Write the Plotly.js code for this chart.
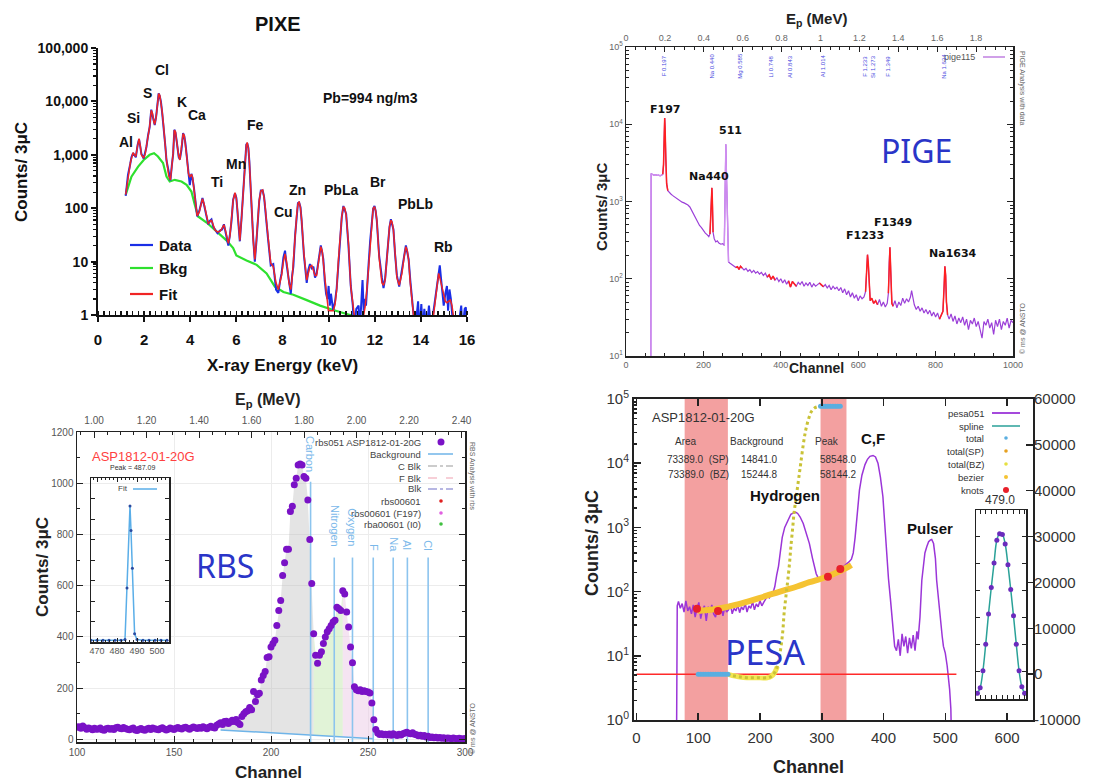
<!DOCTYPE html>
<html><head><meta charset="utf-8">
<script src="https://cdn.plot.ly/plotly-3.0.1.min.js"></script>
<style>html,body{margin:0;padding:0;background:#fff}#chart{width:1096px;height:784px}</style>
</head><body><div id="chart"></div>
<script>
// ---------------- PIXE data ----------------
const pixeE = [
1.2,1.3,1.4,1.45,1.52,1.58,1.64,1.72,1.78,1.83,
1.88,1.98,2.05,2.1,2.17,2.24,2.31,2.36,2.42,2.46,
2.52,2.58,2.63,2.68,2.73,2.78,2.83,2.87,2.92,2.97,
3.07,3.14,3.2,3.26,3.31,3.36,3.41,3.45,3.5,3.55,
3.62,3.69,3.74,3.79,3.84,3.92,3.98,4.05,4.1,4.16,
4.23,4.3,4.39,4.46,4.53,4.6,4.68,4.78,4.85,4.92,
5.0,5.07,5.18,5.29,5.38,5.46,5.55,5.65,5.72,5.79,
5.86,5.94,6.0,6.04,6.1,6.15,6.22,6.3,6.38,6.43,
6.47,6.52,6.56,6.62,6.66,6.73,6.8,6.87,6.93,6.99,
7.06,7.14,7.2,7.24,7.3,7.38,7.49,7.6,7.72,7.82,
7.9,7.96,8.04,8.11,8.16,8.21,8.28,8.36,8.42,8.47,
8.55,8.62,8.67,8.72,8.78,8.83,8.93,9.05,9.12,9.19,
9.27,9.34,9.41,9.48,9.57,9.66,9.72,9.77,9.83,9.89,
9.99,10.1,10.2,10.28,10.35,10.42,10.5,10.57,10.64,10.7,
10.76,10.86,10.96,11.08,11.2,11.4,11.58,11.66,11.73,11.8,
11.87,11.93,11.99,12.04,12.09,12.19,12.31,12.38,12.45,12.51,
12.57,12.64,12.7,12.75,12.81,12.88,12.96,13.06,13.12,13.18,
13.27,13.35,13.41,13.47,13.54,13.61,13.68,13.8,14.0,14.2,
14.4,14.55,14.63,14.7,14.77,14.82,14.87,14.93,14.99,15.06,
15.13,15.2,15.28,15.35,15.42,15.5];
const pixeFit = [
180,400,700,850,1100,1000,930,1500,2000,1500,
1000,870,1050,1440,2200,3400,6800,6000,4200,3700,
5000,9000,14000,13000,9500,6500,4000,2500,1400,800,
400,340,600,1100,2900,2700,1800,1300,950,800,
1300,2500,2300,1600,1000,450,380,430,380,230,
120,72,85,120,150,120,78,52,55,60,
48,39,36,37,42,49,35,22,30,60,
140,195,150,100,40,25,60,250,900,1500,
1700,1300,800,300,110,25,11,25,70,140,
210,220,160,120,60,26,9.3,8,4,3,
4,5.5,10,14,11,8,4,3,5,9,
30,80,120,133,100,60,14,4.5,6,8,
8.5,7,5.5,5.5,11,19,16,10.5,5,3,
1.2,1.2,1.2,1.6,3,10,25,70,107,100,
75,22,3.4,1.0,0.5,0.5,1.4,3,8,25,
60,100,107,90,60,12,4,3.6,4.5,10,
22,45,60,55,39,15,5,3.6,4.5,6,
12,19,16,10.7,4,1.9,1,0.5,0.5,0.5,
0.5,1,1.9,3.5,6,5,4,2.8,2.2,1.8,
1.7,1.8,1.9,1.5,1.0,0.5];
const pixeDataE = [
1.2,1.3,1.4,1.45,1.52,1.58,1.64,1.72,1.78,1.83,
1.88,1.98,2.05,2.1,2.17,2.24,2.31,2.36,2.42,2.46,
2.52,2.58,2.63,2.68,2.73,2.78,2.83,2.87,2.92,2.97,
3.07,3.14,3.2,3.26,3.31,3.36,3.41,3.45,3.5,3.55,
3.62,3.69,3.74,3.79,3.84,3.92,3.98,4.05,4.1,4.16,
4.23,4.3,4.39,4.46,4.53,4.6,4.68,4.78,4.85,4.92,
5.0,5.07,5.18,5.29,5.38,5.46,5.55,5.65,5.72,5.79,
5.86,5.94,6.0,6.04,6.1,6.15,6.22,6.3,6.38,6.43,
6.47,6.52,6.56,6.62,6.66,6.73,6.8,6.87,6.93,6.99,
7.06,7.14,7.2,7.24,7.3,7.38,7.49,7.6,7.72,7.82,
7.9,7.96,8.04,8.11,8.16,8.21,8.28,8.36,8.42,8.47,
8.55,8.62,8.67,8.72,8.78,8.83,8.93,9.05,9.12,9.19,
9.27,9.34,9.41,9.48,9.57,9.66,9.72,9.77,9.83,9.89,
9.95,10.0,10.05,10.1,10.2,10.28,10.35,10.42,10.5,10.57,
10.64,10.7,10.76,10.86,10.96,11.05,11.1,11.2,11.3,11.35,
11.42,11.47,11.52,11.58,11.62,11.66,11.73,11.8,11.87,11.93,
11.99,12.04,12.09,12.19,12.31,12.38,12.45,12.51,12.57,12.64,
12.7,12.75,12.81,12.88,12.96,13.06,13.12,13.18,13.27,13.35,
13.41,13.47,13.54,13.61,13.68,13.75,13.88,13.93,14.02,14.08,
14.15,14.25,14.35,14.45,14.55,14.63,14.7,14.77,14.82,14.87,
14.93,14.99,15.06,15.13,15.18,15.24,15.3,15.35,15.42,15.6,
15.75,15.8,15.9,15.95,16.0];
const pixeData = [
170,420,680,900,1080,980,900,1550,1950,1450,
1050,850,1100,1400,2300,3300,7000,5600,4400,3600,
5200,8800,14200,12500,9800,6300,4100,2400,1450,780,
420,330,620,1050,2950,2600,1850,1250,900,820,
1250,2550,2250,1650,950,470,270,440,360,240,
115,70,88,118,155,115,80,50,58,62,
45,40,34,38,40,50,33,20,32,58,
145,190,155,95,42,24,62,240,920,1550,
1650,1350,780,310,105,27,10,24,72,135,
215,215,165,115,62,25,8.5,9,3,2.6,
4.5,6,12,16,10,7,3.5,2.5,5.5,8,
32,78,125,128,105,58,13,4,7,9,
7.5,8,5,6,10,20,15,11,4.5,2.5,
2,3.5,1.5,2.5,1.2,1.8,3.2,9,27,68,
110,95,78,20,3.5,1.5,0.5,1.3,1.5,0.5,
2.5,4.5,1.2,2,1.5,3.2,8.5,24,62,98,
110,88,58,13,5,3.2,4.8,9,23,44,
62,53,40,14,5.5,3.4,5,6.5,11,20,
15,11,4.5,2,1.1,0.5,1.8,0.5,1.6,0.5,
1.3,0.5,1.5,0.5,1.2,2.2,4,7,8.5,5,
3,1.5,2.5,3.5,1.2,3,2,1.2,0.5,0.5,
1.5,0.5,1.3,1.4,0.5];
const pixeBkgE = [1.2,1.45,1.74,1.98,2.24,2.43,2.6,2.82,2.97,3.11,3.33,3.62,3.84,4.05,4.2,4.34,4.71,5.14,5.57,5.86,6.0,6.44,6.88,7.31,7.67,8.04,8.47,9.05,9.63,10.2,10.93,11.1];
const pixeBkg  = [178,390,600,800,1000,1070,930,700,390,316,340,316,275,205,115,70,54,37,25,18,13,10.5,8.7,6,3.4,2.7,2.4,1.9,1.5,1.24,1.0,0.95];
const pixeElements = ['Al','Si','S','Cl','K','Ca','Ti','Mn','Fe','Cu','Zn','PbLa','Br','PbLb','Rb'];
const pixeYTicks = [1,10,100,1000,10000,100000];
const pixeYTickText = ['1','10','100','1,000','10,000','100,000'];

// ---------------- PIGE data ----------------
const pigeCh = [
64,65,68,72,76,80,84,88,92,95,
97,99,100,101,103,105,108,112,116,120,
125,130,135,140,145,150,155,160,165,170,
175,180,185,190,195,200,205,210,214,217,
219,221,222,223,225,228,232,236,240,245,
250,254,256,257,258,259,261,263,265,268,
272,276,280,284,288,292,296,300,305,310,
315,320,325,330,335,340,345,350,355,360,
365,370,375,380,385,390,395,400,405,410,
415,420,425,430,435,440,445,450,455,460,
465,470,475,480,485,490,495,500,505,510,
515,520,525,530,535,540,545,550,555,560,
565,570,575,580,585,590,595,600,605,610,
615,619,622,624,626,628,631,635,640,645,
650,655,660,665,670,675,678,680,682,684,
687,690,695,700,705,710,715,720,725,730,
735,738,741,745,750,755,760,765,770,775,
780,785,790,795,800,805,810,815,819,822,
824,826,828,831,835,840,845,850,855,860,
865,870,875,880,885,890,895,900,905,910,
915,920,925,930,935,940,945,950,955,960,
965,970,975,980,985,990,995,1000];
const pigeCounts = [
5,2300,2250,2200,2220,2180,2200,2150,2200,2250,
3000,8000,12000,9000,3500,1700,1380,1300,1250,1200,
1150,1120,1060,1000,980,960,930,900,850,760,
690,610,560,490,460,420,390,370,350,380,
700,1300,1500,1100,400,330,300,310,290,280,
285,270,1200,3500,5500,3000,800,200,165,160,
155,150,148,140,143,132,145,138,130,136,
125,131,120,128,118,124,115,121,110,118,
105,112,98,108,96,103,92,100,88,97,
85,94,78,92,86,80,90,84,92,80,
88,82,90,78,86,80,84,88,82,79,
84,76,82,72,80,74,78,70,77,66,
74,62,70,58,66,56,62,52,60,55,
58,68,130,205,160,80,52,56,48,52,
46,54,44,50,43,48,65,160,255,130,
48,44,52,42,50,45,56,48,55,50,
58,70,55,46,40,44,38,42,36,40,
35,39,33,37,32,36,30,34,38,80,
145,110,50,34,30,35,28,33,26,31,
27,32,25,30,22,29,26,31,24,28,
22,17,28,25,30,23,27,19,29,24,
30,22,28,25,31,23,29,27];
const pigeFitRanges = [[95,110],[216,226],[282,300],[362,385],[420,440],[500,510],[616,650],[676,690],[808,832]];
const pigeLightRanges = [[60,95],[254,266]];
const pigePeakNames = ['F197','511','Na440','F1233','F1349','Na1634'];
const pigeGammaLabels = ['F 0.197','Na 0.440','Mg 0.585','Li 0.748','Al 0.843','Al 1.014','F 1.233','Si 1.273','F 1.349','Na 1.634'];
const pigeGammaEp = [0.197,0.44,0.585,0.748,0.843,1.014,1.228,1.27,1.346,1.634];

// ---------------- RBS data ----------------
const rbsCh = [
100,101,102,103,104,105,106,107,108,109,
110,111,112,113,114,115,116,117,118,119,
120,121,122,123,124,125,126,127,128,129,
130,131,132,133,134,135,136,137,138,139,
140,141,142,143,144,145,146,147,148,149,
150,151,152,153,154,155,156,157,158,159,
160,161,162,163,164,165,166,167,168,169,
170,171,172,173,174,175,176,177,178,179,
180,181,182,183,184,185,186,187,188,189,
190,191,192,193,194,195,196,197,198,199,
200,201,202,203,204,205,206,207,208,209,
210,211,212,213,214,215,216,217,218,219,
220,221,222,223,224,225,226,227,228,229,
230,231,232,233,234,235,236,237,238,239,
240,241,242,243,244,245,246,247,248,249,
250,251,252,253,254,255,256,257,258,259,
260,261,262,263,264,265,266,267,268,269,
270,271,272,273,274,275,276,277,278,279,
280,281,282,283,284,285,286,287,288,289,
290,291,292,293,294,295,296,297,298,299,
300];
const rbsCounts = [
48,50,44,52,46,40,45,42,38,44,
40,41,45,38,36,42,44,40,43,39,
46,48,44,42,47,43,40,38,42,45,
37,35,40,43,38,36,41,44,39,45,
42,40,38,43,46,41,37,40,45,42,
39,44,47,43,41,46,48,44,40,45,
49,46,43,47,44,50,46,42,48,51,
47,45,55,60,65,58,70,71,62,68,
75,70,78,65,58,90,100,108,112,125,
116,187,148,174,180,232,250,265,320,323,
361,374,387,445,503,542,640,690,742,742,
890,910,994,1019,1071,1075,1071,1026,1019,935,
780,609,413,329,297,329,342,374,400,420,
432,445,458,465,516,510,503,580,568,497,
439,361,299,206,194,190,194,187,190,187,
185,181,142,77,39,25,19,22,18,20,
17,21,16,22,18,15,20,17,22,25,
28,24,22,26,20,18,14,16,12,15,
10,12,8,10,7,9,6,8,5,7,
4,6,5,3,6,4,2,5,3,2,
4];
const rbsBgCh = [174,253];
const rbsBgCounts = [37,3];
const rbsBands = [[174,222],[222,237],[237,253]];
const rbsBandColors = ['rgba(185,185,185,0.38)','rgba(195,232,175,0.5)','rgba(236,205,232,0.55)'];
const rbsElements = ['Carbon','Nitrogen','Oxygen','F','Na','Al','Cl'];
const rbsElemCh = [220.4,232.6,242,252.7,263,270.3,281];
const rbsElemTop = [1006,710,710,710,710,710,710];
const rbsElemLabelY = [1116,832,826,750,761,757,757];
const rbsInsetCh = [467,470,473,476,479,482,484,485,486.5,487,487.7,488.8,490,493,496,499,502,505];
const rbsInsetVal = [1,1,1,1,1,1,1.5,33,83,68,45,5,1.5,1,1,1,1,1];

// ---------------- PESA data ----------------
const pesaCh = [
65,66,68,71,74,77,80,83,86,89,
92,95,98,101,104,107,110,113,116,119,
122,125,128,131,134,137,140,143,146,149,
152,155,158,161,164,167,170,173,176,179,
182,185,188,191,194,197,200,203,206,209,
212,215,218,221,224,227,230,233,236,240,
245,250,255,258,261,265,270,275,280,285,
288,291,294,297,300,304,308,312,316,320,
324,328,332,336,340,344,348,351,354,357,
361,365,370,374,378,383,387,391,395,399,
402,405,408,411,413,416,418,421,424,427,
430,433,436,439,442,445,448,451,454,456,
459,462,465,467,470,473,476,478,481,484,
486,489,492,495,497,500,503,505,507,509,
510];
const pesaCounts = [
0.8,60,70,55,65,48,72,50,58,45,
62,40,55,68,38,52,60,35,58,48,
62,45,40,55,50,60,42,58,48,52,
65,45,55,50,62,47,58,52,66,48,
60,55,70,52,64,58,72,60,68,75,
85,80,90,95,120,180,250,420,700,1000,
1300,1600,1700,1720,1650,1450,1150,800,560,330,
240,190,165,160,165,170,172,178,185,192,
200,215,235,255,270,290,320,400,700,1500,
3800,6500,9500,11500,12800,13200,12500,10000,6000,3000,
1000,450,160,80,46,22,14,12,18,10,
22,14,20,11,19,13,21,12,24,18,
40,150,260,400,500,600,640,650,560,330,
150,70,36,20,14,11,7,5,3,1.5,
0.5];
const pesaBezCh = [100,120,140,160,180,200,220,240,260,280,300,320,340,348];
const pesaBezVal = [50,52,56,62,70,80,92,105,120,140,160,190,235,260];
const pesaKnotCh = [98,132,310,330];
const pesaKnotVal = [54,50,170,225];
const pesaTotLowCh = [100,104,108,112,116,120,124,128,132,136,140,144,148];
const pesaTotLowVal = [0,0,0,0,0,0,0,0,0,0,0,0,0];
const pesaTotHighCh = [298,302,306,310,314,318,322,326,330];
const pesaTotHighVal = [58400,58400,58400,58400,58400,58400,58400,58400,58400];
const pesaCumCh = [147,155,165,179,195,212,218,223,228,231,234,237,239,242,245,248,250,253,255,258,261,264,266,270,274,279,283,288,293,298];
const pesaCumVal = [0,-300,-550,-780,-800,-780,-500,200,1650,3500,6000,9500,13250,17000,20500,24500,27800,32000,35000,38000,41000,44000,46000,50000,53200,55800,57200,58000,58300,58400];
const pesaZeroCh = [0,518];
const pesaZeroVal = [0,0];
const pesaBands = [[78,148],[298,340]];
const pesaInsetCh = [471,472,473,474,475,476,477,478,479,480,481,482,483,484,485,486,487,488];
const pesaInsetVal = [0.03,0.06,0.15,0.29,0.45,0.59,0.72,0.84,0.875,0.87,0.82,0.71,0.58,0.44,0.29,0.15,0.065,0.03];
const pesaRightTicks = [-10000,0,10000,20000,30000,40000,50000,60000];
const logTicks = [1,10,100,1000,10000,100000];

// ---------------- helpers ----------------
const W = 1096, H = 784;
const X = px => px / W, Y = py => 1 - py / H;
const FA = 'Liberation Sans, Arial, sans-serif';
const FD = 'DejaVu Sans, Verdana, sans-serif';
function T(text, px, py, size, color, extra) {
  return Object.assign({text: text, x: X(px), y: Y(py), xref: 'paper', yref: 'paper', showarrow: false,
    xanchor: 'center', yanchor: 'middle', font: {size: size, color: color, family: FA}}, extra || {});
}
function legLine(x0, x1, y, color, dash, width) {
  return {type: 'line', xref: 'paper', yref: 'paper', x0: X(x0), x1: X(x1), y0: Y(y), y1: Y(y),
    line: {color: color, width: width || 1.5, dash: dash || 'solid'}};
}
function legDot(cx, cy, r, color) {
  return {type: 'circle', xref: 'paper', yref: 'paper', x0: X(cx - r), x1: X(cx + r), y0: Y(cy + r), y1: Y(cy - r),
    fillcolor: color, line: {width: 0}};
}
function logMinor(d0, d1) { const a = []; for (let e = d0; e < d1; e++) for (let m = 2; m <= 9; m++) a.push(m * Math.pow(10, e)); return a; }
function pick(xs, ys, lo, hi) { const ox = [], oy = []; xs.forEach((v, i) => { if (v >= lo && v <= hi) { ox.push(v); oy.push(ys[i]); } }); return [ox, oy]; }
function sup(n) { return '10<sup>' + n + '</sup>'; }

const traces = [];
// PIXE
traces.push({x: pixeBkgE, y: pixeBkg, xaxis: 'x', yaxis: 'y', mode: 'lines', line: {color: '#2ee02e', width: 2.2}, name: 'Bkg'});
traces.push({x: pixeDataE, y: pixeData, xaxis: 'x', yaxis: 'y', mode: 'lines', line: {color: '#1a2ee6', width: 2}, name: 'Data'});
traces.push({x: pixeE, y: pixeFit, xaxis: 'x', yaxis: 'y', mode: 'lines', line: {color: '#f02424', width: 1.5}, name: 'Fit'});
// PIGE
traces.push({x: pigeCh, y: pigeCounts, xaxis: 'x2', yaxis: 'y2', mode: 'lines', line: {color: '#9b3fd8', width: 1.2}, name: 'pige115'});
pigeLightRanges.forEach(r => { const p = pick(pigeCh, pigeCounts, r[0], r[1]);
  traces.push({x: p[0], y: p[1], xaxis: 'x2', yaxis: 'y2', mode: 'lines', line: {color: '#d08ef0', width: 1.4}}); });
pigeFitRanges.forEach(r => { const p = pick(pigeCh, pigeCounts, r[0], r[1]);
  traces.push({x: p[0], y: p[1], xaxis: 'x2', yaxis: 'y2', mode: 'lines', line: {color: '#ff2020', width: 1.5}}); });
traces.push({x: [0.5], y: [null], xaxis: 'x3', yaxis: 'y2', mode: 'markers', hoverinfo: 'skip'});
// RBS
function bgAt(c) { const t = (c - rbsBgCh[0]) / (rbsBgCh[1] - rbsBgCh[0]); return rbsBgCounts[0] + t * (rbsBgCounts[1] - rbsBgCounts[0]); }
rbsBands.forEach((b, k) => {
  const p = pick(rbsCh, rbsCounts, b[0], b[1]);
  const xs = p[0].concat(p[0].slice().reverse());
  const ys = p[1].concat(p[0].slice().reverse().map(bgAt));
  traces.push({x: xs, y: ys, xaxis: 'x4', yaxis: 'y4', mode: 'lines', fill: 'toself', fillcolor: rbsBandColors[k], line: {width: 0}, hoverinfo: 'skip'});
});
traces.push({x: rbsBgCh, y: rbsBgCounts, xaxis: 'x4', yaxis: 'y4', mode: 'lines', line: {color: '#6fb4e8', width: 1.5}, name: 'Background'});
rbsElemCh.forEach((c, i) => traces.push({x: [c, c], y: [-20, rbsElemTop[i]], xaxis: 'x4', yaxis: 'y4', mode: 'lines', line: {color: '#8cc4ee', width: 1.6}}));
traces.push({x: rbsCh, y: rbsCounts, xaxis: 'x4', yaxis: 'y4', mode: 'markers', marker: {color: '#7a12c6', size: 7}, name: 'rbs051 ASP1812-01-20G'});
traces.push({x: [1.5], y: [null], xaxis: 'x5', yaxis: 'y4', mode: 'markers', hoverinfo: 'skip'});
traces.push({x: rbsInsetCh, y: rbsInsetVal, xaxis: 'x6', yaxis: 'y6', mode: 'lines+markers', line: {color: '#5aaee8', width: 1.5}, marker: {color: '#2a4aa0', size: 3}, name: 'Fit'});
// PESA
const lowCum = pick(pesaCumCh, pesaCumVal, 140, 229);
traces.push({x: pesaZeroCh, y: pesaZeroVal, xaxis: 'x7', yaxis: 'y8', mode: 'lines', line: {color: '#ff2a2a', width: 1.5}});
traces.push({x: pesaCh, y: pesaCounts, xaxis: 'x7', yaxis: 'y7', mode: 'lines', line: {color: '#9b35d8', width: 1.5}, name: 'pesa051'});
traces.push({x: lowCum[0], y: lowCum[1], xaxis: 'x7', yaxis: 'y8', mode: 'lines', line: {color: '#f2e650', width: 5, shape: 'spline'}});
traces.push({x: pesaCumCh, y: pesaCumVal, xaxis: 'x7', yaxis: 'y8', mode: 'lines', line: {color: '#c9c236', width: 3, dash: 'dot', shape: 'spline'}, name: 'total(BZ)'});
traces.push({x: pesaBezCh, y: pesaBezVal, xaxis: 'x7', yaxis: 'y7', mode: 'lines', line: {color: '#f5c332', width: 6, shape: 'spline'}, name: 'bezier'});
traces.push({x: pesaTotLowCh, y: pesaTotLowVal, xaxis: 'x7', yaxis: 'y8', mode: 'lines+markers', line: {color: '#5aaee0', width: 4}, marker: {color: '#5aaee0', size: 5}, name: 'total'});
traces.push({x: pesaTotHighCh, y: pesaTotHighVal, xaxis: 'x7', yaxis: 'y8', mode: 'lines+markers', line: {color: '#5aaee0', width: 4}, marker: {color: '#5aaee0', size: 5}});
traces.push({x: pesaKnotCh, y: pesaKnotVal, xaxis: 'x7', yaxis: 'y7', mode: 'markers', marker: {color: '#e8202a', size: 8}, name: 'knots'});
traces.push({x: pesaInsetCh, y: pesaInsetVal, xaxis: 'x9', yaxis: 'y9', mode: 'lines', line: {color: '#2aa198', width: 1.5, shape: 'spline'}, name: 'spline'});
traces.push({x: pesaInsetCh, y: pesaInsetVal, xaxis: 'x9', yaxis: 'y9', mode: 'markers', marker: {color: '#6a2bbd', size: 5}});
traces.forEach(t => { t.showlegend = false; });

// ---------------- axes ----------------
const gTick = {size: 9, color: '#666', family: FA};
const layout = {
  width: W, height: H, margin: {l: 0, r: 0, t: 0, b: 0}, showlegend: false,
  paper_bgcolor: '#fff', plot_bgcolor: 'rgba(0,0,0,0)', font: {family: FA},
  // PIXE
  xaxis: {domain: [X(98), X(467)], anchor: 'y', range: [0, 16], dtick: 2, tick0: 0, showline: true, linecolor: '#111', linewidth: 2,
    ticks: 'outside', ticklen: 5, tickwidth: 2, tickcolor: '#111', ticklabelstandoff: 5, showgrid: false, zeroline: false,
    tickfont: {size: 15, color: '#111', family: FA, weight: 'bold'}, minor: {dtick: 0.25, ticks: 'inside', ticklen: 4, tickwidth: 1.5, tickcolor: '#111'}},
  yaxis: {domain: [Y(315), Y(48)], anchor: 'x', type: 'log', range: [0, 5], tickmode: 'array', tickvals: pixeYTicks, ticktext: pixeYTickText,
    showline: true, linecolor: '#111', linewidth: 2, ticks: 'outside', ticklen: 5, tickwidth: 2, tickcolor: '#111', showgrid: false, zeroline: false,
    tickfont: {size: 14, color: '#111', family: FA, weight: 'bold'},
    minor: {tickmode: 'array', tickvals: logMinor(0, 5), ticks: 'outside', ticklen: 3, tickwidth: 1.2, tickcolor: '#111'}},
  // PIGE
  xaxis2: {domain: [X(626), X(1013)], anchor: 'y2', range: [0, 1000], dtick: 200, tick0: 0, showline: true, mirror: true, linecolor: '#222', linewidth: 1.5,
    ticks: 'inside', ticklen: 5, tickcolor: '#222', showgrid: false, zeroline: false, tickfont: gTick,
    minor: {dtick: 50, ticks: 'inside', ticklen: 3, tickcolor: '#222'}},
  xaxis3: {overlaying: 'x2', side: 'top', anchor: 'y2', range: [0, 1.99], dtick: 0.2, tick0: 0, ticks: 'inside', ticklen: 5, tickcolor: '#222',
    ticklabelstandoff: 3, showline: false, showgrid: false, zeroline: false, tickfont: gTick, minor: {dtick: 0.05, ticks: 'inside', ticklen: 3, tickcolor: '#222'}},
  yaxis2: {domain: [Y(356), Y(47)], anchor: 'x2', type: 'log', range: [1, 5], tickmode: 'array', tickvals: logTicks.slice(1), ticktext: [1,2,3,4,5].map(sup),
    showline: true, mirror: 'ticks', linecolor: '#222', linewidth: 1.5, ticks: 'inside', ticklen: 6, tickcolor: '#222', showgrid: false, zeroline: false,
    tickfont: gTick, minor: {tickmode: 'array', tickvals: logMinor(1, 5), ticks: 'inside', ticklen: 3, tickcolor: '#222'}},
  // RBS
  xaxis4: {domain: [X(77), X(465)], anchor: 'y4', range: [100, 300], dtick: 50, tick0: 100, showline: true, mirror: true, linecolor: '#222', linewidth: 1.5,
    ticks: 'inside', ticklen: 6, tickcolor: '#222', showgrid: true, gridcolor: '#ececec', zeroline: false, tickfont: {size: 10, color: '#555', family: FA},
    minor: {dtick: 10, ticks: 'inside', ticklen: 3, tickcolor: '#222'}},
  xaxis5: {overlaying: 'x4', side: 'top', anchor: 'y4', range: [0.935, 2.413], dtick: 0.2, tick0: 1.0, tickformat: '.2f', ticks: 'inside', ticklen: 6,
    ticklabelstandoff: 5, tickcolor: '#222', showgrid: false, zeroline: false, tickfont: {size: 10, color: '#555', family: FA}, minor: {dtick: 0.05, ticks: 'inside', ticklen: 3, tickcolor: '#222'}},
  yaxis4: {domain: [Y(742), Y(432)], anchor: 'x4', range: [-10, 1200], dtick: 200, tick0: 0, showline: true, mirror: 'ticks', linecolor: '#222', linewidth: 1.5,
    ticks: 'inside', ticklen: 6, tickcolor: '#222', showgrid: true, gridcolor: '#ececec', zeroline: false, tickfont: {size: 10, color: '#555', family: FA},
    minor: {dtick: 100, ticks: 'inside', ticklen: 3, tickcolor: '#222'}},
  xaxis6: {domain: [X(91), X(169)], anchor: 'y6', range: [467, 506], dtick: 10, tick0: 470, showline: true, mirror: 'ticks', linecolor: '#222', linewidth: 1.5,
    ticks: 'inside', ticklen: 4, tickcolor: '#222', showgrid: false, zeroline: false, tickfont: {size: 9, color: '#555', family: FA},
    minor: {dtick: 2, ticks: 'inside', ticklen: 2, tickcolor: '#222'}},
  yaxis6: {domain: [Y(642), Y(478)], anchor: 'x6', range: [0, 100], dtick: 12.5, showline: true, mirror: 'ticks', linecolor: '#222', linewidth: 1.5,
    ticks: 'inside', ticklen: 4, tickcolor: '#222', showticklabels: false, showgrid: false, zeroline: false},
  // PESA
  xaxis7: {domain: [X(634), X(1033)], anchor: 'y7', range: [-4, 642], dtick: 100, tick0: 0, showline: true, mirror: 'ticks', linecolor: '#222', linewidth: 2,
    ticks: 'inside', ticklen: 7, tickwidth: 1.5, tickcolor: '#222', ticklabelstandoff: 3, showgrid: false, zeroline: false, tickfont: {size: 15, color: '#333', family: FA}},
  yaxis7: {domain: [Y(720), Y(399)], anchor: 'x7', type: 'log', range: [0, 5], tickmode: 'array', tickvals: logTicks, ticktext: [0,1,2,3,4,5].map(sup),
    showline: true, mirror: true, linecolor: '#222', linewidth: 2, ticks: 'inside', ticklen: 7, tickwidth: 1.5, tickcolor: '#222', showgrid: false, zeroline: false,
    tickfont: {size: 15, color: '#333', family: FA}, minor: {tickmode: 'array', tickvals: logMinor(0, 5), ticks: 'inside', ticklen: 3, tickcolor: '#222'}},
  yaxis8: {overlaying: 'y7', side: 'right', anchor: 'x7', range: [-10000, 60000], tickmode: 'array', tickvals: pesaRightTicks, ticktext: pesaRightTicks.map(String),
    ticks: 'inside', ticklen: 7, tickwidth: 1.5, tickcolor: '#222', showgrid: false, zeroline: false, tickfont: {size: 15, color: '#333', family: FA}},
  xaxis9: {domain: [X(976), X(1026)], anchor: 'y9', range: [470.5, 488.5], dtick: 2, tick0: 470, showline: true, mirror: 'ticks', linecolor: '#222', linewidth: 1.5,
    ticks: 'inside', ticklen: 4, tickcolor: '#222', showticklabels: false, showgrid: false, zeroline: false},
  yaxis9: {domain: [Y(699), Y(510)], anchor: 'x9', range: [0, 1], dtick: 0.143, showline: true, mirror: 'ticks', linecolor: '#222', linewidth: 1.5,
    ticks: 'inside', ticklen: 4, tickcolor: '#222', showticklabels: false, showgrid: false, zeroline: false}
};

// ---------------- shapes ----------------
const shapes = [];
pesaBands.forEach(b => shapes.push({type: 'rect', xref: 'x7', yref: 'y7 domain', x0: b[0], x1: b[1], y0: 0, y1: 1, fillcolor: '#f3a0a0', line: {width: 0}, layer: 'below'}));
shapes.push(legLine(130, 153, 245, '#1a2ee6', 'solid', 2.2), legLine(130, 153, 268, '#2ee02e', 'solid', 2.2), legLine(130, 153, 294, '#f02424', 'solid', 2.2));
shapes.push(legLine(983, 1005, 57, '#c080e0', 'solid', 1.5));
shapes.push(legDot(441, 442, 3.5, '#7a12c6'), legLine(428, 453, 454, '#6fb4e8', 'solid', 1.5), legLine(428, 453, 466, '#999', 'dashdot', 1.2),
  legLine(428, 453, 478, '#f0a0b0', 'dash', 1.2), legLine(428, 453, 489, '#7070c8', 'dashdot', 1.2), legDot(441, 501, 1.8, '#e02020'),
  legDot(441, 513, 1.8, '#e060e0'), legDot(441, 524, 1.8, '#40c040'), legLine(133, 157, 489, '#5aaee8', 'solid', 1.5));
shapes.push(legLine(992, 1020, 413, '#9b35d8', 'solid', 1.8), legLine(992, 1020, 426, '#2aa198', 'solid', 1.5), legDot(1006, 438, 1.8, '#5aaee0'),
  legDot(1006, 451, 1.8, '#e6a020'), legDot(1006, 464, 1.8, '#e6e040'), legDot(1006, 477, 2, '#f5c332'), legDot(1006, 490, 3, '#e8202a'));
layout.shapes = shapes;

// ---------------- annotations ----------------
const ann = [];
ann.push(T('<b>PIXE</b>', 278, 24, 20, '#111'));
ann.push(T('<b>Counts/ 3μC</b>', 22, 172, 17, '#111', {textangle: -90}));
ann.push(T('<b>X-ray Energy (keV)</b>', 282, 365, 17, '#111'));
const pixeLabelPos = [[126,142],[133,118],[147,93],[162,70],[182,102],[197,115],[217,182],[236,164],[255,125],[283,212],[298,190],[341,190],[378,182],[415,204],[443,247]];
pixeElements.forEach((e, i) => ann.push(T('<b>' + e + '</b>', pixeLabelPos[i][0], pixeLabelPos[i][1], 14, '#111')));
ann.push(T('<b>Pb=994 ng/m3</b>', 370, 98, 14, '#111'));
['Data', 'Bkg', 'Fit'].forEach((s, i) => ann.push(T('<b>' + s + '</b>', 157, [245, 268, 294][i], 15, '#111', {xanchor: 'left'})));
// PIGE
ann.push(T('<b>E<sub>p</sub> (MeV)</b>', 816, 20, 15, '#222'));
ann.push(T('<b>Counts/ 3μC</b>', 602, 207, 15, '#222', {textangle: -90}));
ann.push(T('<b>Channel</b>', 816, 368, 14, '#222'));
const pigePeakPos = [[665,109],[730,131],[709,177],[865,236],[893,222],[953,253]];
pigePeakNames.forEach((s, i) => ann.push(T('<b>' + s + '</b>', pigePeakPos[i][0], pigePeakPos[i][1], 11, '#111', {font: {size: 11, color: '#111', family: FD}})));
ann.push(T('PIGE', 916, 151, 32, '#2a35c8', {font: {size: 32, color: '#2a35c8', family: 'Noto Sans, sans-serif'}}));
ann.push(T('PIGE Analysis with data', 1022, 88, 7, '#666', {textangle: 90}));
ann.push(T('© ms @ ANSTO', 1022, 328, 7, '#666', {textangle: -90}));
ann.push(T('pige115', 977, 57, 9, '#555', {xanchor: 'right'}));
pigeGammaLabels.forEach((s, i) => ann.push({text: s, x: pigeGammaEp[i], xref: 'x3', y: Y(66), yref: 'paper', showarrow: false, textangle: -90,
  font: {size: 6, color: '#4848e0', family: FA}, xanchor: 'center', yanchor: 'middle'}));
// RBS
ann.push(T('<b>E<sub>p</sub> (MeV)</b>', 268, 400, 16, '#222'));
ann.push(T('<b>Channel</b>', 268, 772, 17, '#222'));
ann.push(T('<b>Counts/ 3μC</b>', 42, 567, 17, '#222', {textangle: -90}));
ann.push(T('RBS', 225, 565, 32, '#2a35c8', {font: {size: 32, color: '#2a35c8', family: 'Noto Sans, sans-serif'}}));
ann.push(T('ASP1812-01-20G', 143, 456, 13, '#ff4040'));
ann.push(T('Peak = 487.09', 132, 467, 7, '#333'));
ann.push(T('Fit', 130, 489, 8, '#444', {xanchor: 'right'}));
ann.push(T('RBS Analysis with rbs', 472, 477, 7, '#666', {textangle: 90}));
ann.push(T('© ms @ ANSTO', 472, 728, 7, '#666', {textangle: -90}));
const rbsLeg = ['rbs051 ASP1812-01-20G', 'Background', 'C Blk', 'F Blk', 'Blk', 'rbs00601', 'rbs00601 (F197)', 'rba00601 (I0)'];
const rbsLegY = [442, 454, 466, 478, 489, 501, 513, 524];
rbsLeg.forEach((s, i) => ann.push(T(s, 423, rbsLegY[i], 9.5, '#444', {xanchor: 'right'})));
rbsElements.forEach((s, i) => ann.push({text: s, x: rbsElemCh[i], y: rbsElemLabelY[i], xref: 'x4', yref: 'y4', showarrow: false, textangle: 90,
  font: {size: 11, color: '#7ab8ea', family: FA}, xanchor: 'center', yanchor: 'middle'}));
// PESA
ann.push(T('<b>Counts/ 3μC</b>', 592, 543, 18, '#222', {textangle: -90}));
ann.push(T('<b>Channel</b>', 808, 767, 18, '#222'));
ann.push(T('ASP1812-01-20G', 703, 417, 13, '#333'));
ann.push(T('Area', 686, 441, 10, '#333'), T('Background', 756, 441, 10, '#333'), T('Peak', 827, 441, 10, '#333'));
ann.push(T('73389.0  (SP)', 698, 459, 10, '#333'), T('14841.0', 759, 459, 10, '#333'), T('58548.0', 838, 459, 10, '#333'));
ann.push(T('73389.0  (BZ)', 698, 474, 10, '#333'), T('15244.8', 759, 474, 10, '#333'), T('58144.2', 838, 474, 10, '#333'));
ann.push(T('<b>C,F</b>', 873, 438, 15, '#111'), T('<b>Hydrogen</b>', 785, 495, 15, '#111'), T('<b>Pulser</b>', 930, 528, 15, '#111'));
ann.push(T('PESA', 765, 652, 34, '#2a35c8', {font: {size: 34, color: '#2a35c8', family: 'Noto Sans, sans-serif'}}));
ann.push(T('479.0', 1000, 500, 12, '#333'));
const pesaLeg = ['pesa051', 'spline', 'total', 'total(SP)', 'total(BZ)', 'bezier', 'knots'];
const pesaLegY = [413, 426, 438, 451, 464, 477, 490];
pesaLeg.forEach((s, i) => ann.push(T(s, 986, pesaLegY[i], 9.5, '#333', {xanchor: 'right'})));
layout.annotations = ann;

Plotly.newPlot('chart', traces, layout, {staticPlot: true, displayModeBar: false});
</script></body></html>
